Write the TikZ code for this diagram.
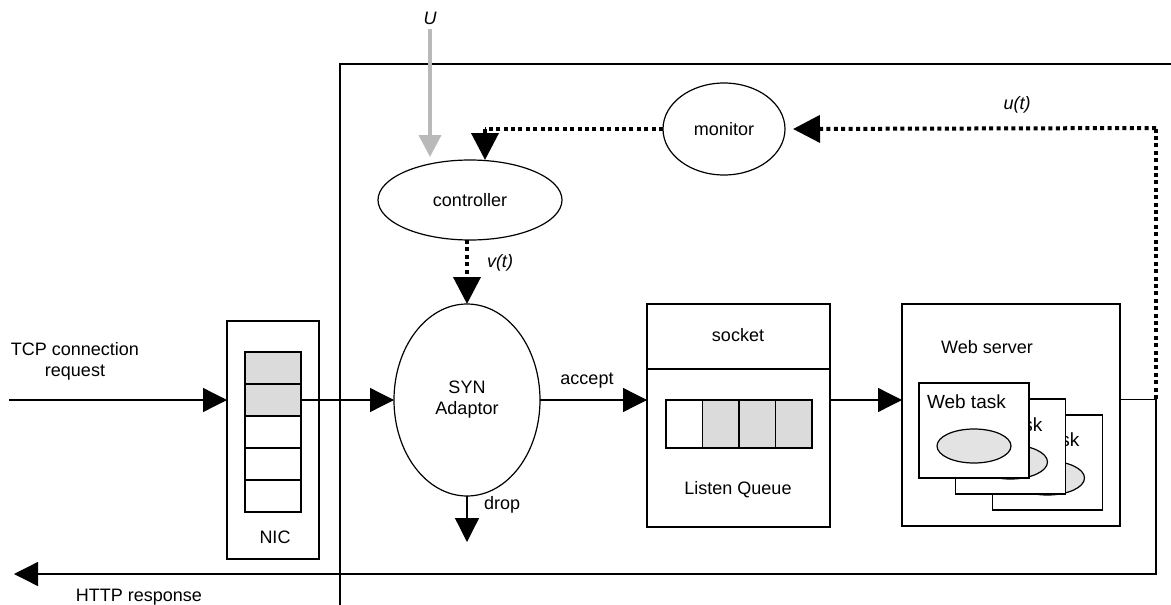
\documentclass[tikz,border=0pt]{standalone}
\usepackage{fontspec}
\setmainfont{Liberation Sans}
\usetikzlibrary{arrows.meta,shapes.geometric,calc}
\begin{document}
\begin{tikzpicture}[x=1pt,y=-1pt,
  every node/.style={font=\fontsize{18}{21}\selectfont, inner sep=0pt, outer sep=0pt},
  ln/.style={line width=1.3pt},
  box/.style={draw, line width=1.3pt, rectangle, fill=white},
  shade/.style={box, fill=gray!28},
  oval/.style={draw, line width=1.2pt, ellipse},
  arr/.style={ln, -{Triangle[length=24pt,width=24pt]}},
  dotarr/.style={line width=4pt, dash pattern=on 4pt off 3.4pt, -{Triangle[length=27pt,width=27pt]}},
  dotln/.style={line width=4pt, dash pattern=on 4pt off 3.4pt},
  grayarr/.style={line width=4pt, gray!55, -{Triangle[length=22pt,width=22pt]}},
  lbl/.style={font=\fontsize{18}{21}\selectfont\itshape},
  tasklbl/.style={font=\fontsize{19}{22}\selectfont, anchor=west}
]
\useasboundingbox (0,0) rectangle (1171,605);

% outer frame
\coordinate (fbl) at (340,605);
\coordinate (ftl) at (340,64);
\coordinate (ftr) at (1171,64);
\draw[ln] (fbl) -- (ftl) -- (ftr);

% NIC
\node[box, minimum width=92pt, minimum height=238pt] (nic) at (273,440) {};
\foreach \i/\y/\s in {1/368/shade,2/400/shade,3/432/box,4/464/box,5/496/box}
  \node[\s, minimum width=56pt, minimum height=32pt] (cell\i) at (273,\y) {};
\node (niclbl) at (275,537) {NIC};

% TCP input
\coordinate (tcpin) at (9,400);
\draw[arr] (tcpin) -- (tcpin -| nic.west);
\node[align=center] (tcplbl) at (75,361) {TCP connection\\request};

% SYN adaptor
\node[oval, minimum width=146pt, minimum height=192pt, align=center] (syn) at (467,400) {SYN\\Adaptor};
\draw[arr] (cell2.east) -- (syn.west);
\coordinate (dropend) at (467,542);
\draw[arr] (syn.south) -- (dropend);
\node[anchor=west] (droplbl) at (484,505) {drop};

% controller
\node[oval, minimum width=184pt, minimum height=80pt] (controller) at (470,200) {controller};
\draw[dotarr] (syn.north |- controller.south) -- (syn.north);
\node[lbl, anchor=west] (vt) at (487,263) {v(t)};

% U input
\node[lbl] (U) at (430,18) {U};
\coordinate (uend) at (430,157);
\draw[grayarr] (U.south) ++(0,5) -- (uend);

% monitor
\node[oval, minimum width=122pt, minimum height=92pt] (monitor) at (724,129) {monitor};
\coordinate (mc) at (485,129);
\draw[dotln] (monitor.west) -- (mc);
\draw[dotarr] (mc) -- (485,160);

% socket
\node[box, minimum width=183pt, minimum height=223pt] (socket) at (738.5,415.5) {};
\draw[ln] (socket.west |- 0,369) -- (socket.east |- 0,369);
\node (socklbl) at (738,335) {socket};
\node (lqlbl) at (738,490) {Listen Queue};
\node[box, minimum width=36.5pt, minimum height=48pt] (q1) at (684.25,424) {};
\node[shade, minimum width=36.5pt, minimum height=48pt] (q2) at (720.75,424) {};
\node[shade, minimum width=36.5pt, minimum height=48pt] (q3) at (757.25,424) {};
\node[shade, minimum width=36.5pt, minimum height=48pt] (q4) at (793.75,424) {};
\draw[arr] (syn.east) -- (socket.west |- syn.east);
\node (acclbl) at (587,381) {accept};

% web server
\node[box, minimum width=218pt, minimum height=222pt] (ws) at (1011,415) {};
\node (wslbl) at (987,347) {Web server};
\draw[arr] (socket.east |- 0,400) -- (ws.west |- 0,400);
\foreach \n/\x/\y/\ty in {t3/1047.5/462.5/25, t2/1010.5/446.5/26, t1/974/430.5/19}{
  \node[box, minimum width=110pt, minimum height=95pt] (\n) at (\x,\y) {};
  \node[tasklbl] (\n lbl) at ($(\n.north west)+(8,\ty)$) {Web task};
  \node[oval, fill=gray!22, minimum width=74pt, minimum height=34pt] (\n e) at ($(\n.north)+(0,63)$) {};
}

% output / feedback
\coordinate (out) at (1156,399);
\coordinate (fbc) at (1156,128);
\coordinate (retc) at (1156,574);
\coordinate (httpend) at (14,574);
\draw[line width=1pt] (ws.east |- out) -- (out);
\draw[dotln] (out) -- (fbc);
\draw[dotarr] (fbc) -- ($(monitor.east)+(8,0)$);
\node[lbl] (ut) at (1017,105) {u(t)};
\draw[arr] (out) -- (retc) -- (httpend);
\node (httplbl) at (139,597) {HTTP response};
\end{tikzpicture}
\end{document}
